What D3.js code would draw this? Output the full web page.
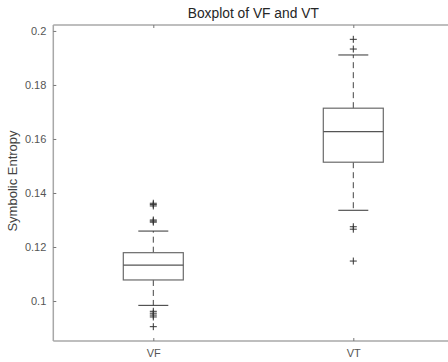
<!DOCTYPE html>
<html><head><meta charset="utf-8">
<script src="https://cdn.jsdelivr.net/npm/d3@7"></script>
<style>body{margin:0;background:#fff;} svg{display:block;font-family:"Liberation Sans",Arial,sans-serif;}</style>
</head><body><div id="chart"></div>
<script>
const categories = ["VF", "VT"];
const q1 = [0.1078, 0.1514];
const medians = [0.1133, 0.1627];
const q3 = [0.1179, 0.1714];
const whiskerLow = [0.0984, 0.1336];
const whiskerHigh = [0.1259, 0.1911];
const outliers = [
  [0.1362, 0.1357, 0.1352, 0.1300, 0.1296, 0.1292, 0.0962, 0.0955, 0.0948, 0.0941, 0.0905],
  [0.1969, 0.1933, 0.1275, 0.1266, 0.1148]
];
const yTicks = [0.1, 0.12, 0.14, 0.16, 0.18, 0.2];
const yTickLabels = ["0.1", "0.12", "0.14", "0.16", "0.18", "0.2"];

const W = 448, H = 362;
const svg = d3.select("#chart").append("svg").attr("width", W).attr("height", H);
const mLeft = 53.3, mTop = 25, mRight = 453.3, mBottom = 341;

const y = d3.scaleLinear().domain([0.0852, 0.2022]).range([mBottom, mTop]);
const x = d3.scaleLinear().domain([0.5, 2.5]).range([mLeft, mRight]);
const boxW = 0.3, capW = 0.15;

// frame
const frame = "#a8a8a8";
svg.append("line").attr("x1", mLeft).attr("x2", mRight).attr("y1", mTop).attr("y2", mTop).attr("stroke", frame).attr("stroke-width", 1.5);
svg.append("line").attr("x1", mLeft).attr("x2", mRight).attr("y1", mBottom).attr("y2", mBottom).attr("stroke", frame).attr("stroke-width", 1.5);
svg.append("line").attr("x1", mLeft).attr("x2", mLeft).attr("y1", mTop).attr("y2", mBottom).attr("stroke", frame).attr("stroke-width", 1.5);

// y axis
const yAxis = d3.axisLeft(y).tickValues(yTicks).tickFormat((d, i) => yTickLabels[i]).tickSizeInner(-3).tickSizeOuter(0).tickPadding(7);
const gy = svg.append("g").attr("transform", `translate(${mLeft},0)`).call(yAxis);
gy.select(".domain").remove();
gy.selectAll(".tick line").attr("stroke", "#777");
gy.selectAll("text").attr("fill", "#555").attr("font-size", 11);

// x axis
const xAxis = d3.axisBottom(x).tickValues([1, 2]).tickFormat((d, i) => categories[i]).tickSizeInner(-3).tickSizeOuter(0).tickPadding(8);
const gx = svg.append("g").attr("transform", `translate(0,${mBottom})`).call(xAxis);
gx.select(".domain").remove();
gx.selectAll(".tick line").attr("stroke", "#777");
gx.selectAll("text").attr("fill", "#555").attr("font-size", 11);
const gxt = svg.append("g").attr("transform", `translate(0,${mTop})`).call(d3.axisTop(x).tickValues([1, 2]).tickFormat("").tickSizeInner(-3).tickSizeOuter(0));
gxt.select(".domain").remove();
gxt.selectAll(".tick line").attr("stroke", "#777");

// title and label
svg.append("text").attr("x", (mLeft + mRight) / 2).attr("y", 18).attr("text-anchor", "middle").attr("font-size", 13.8).attr("fill", "#262626").text("Boxplot of VF and VT");
svg.append("text").attr("transform", `translate(17,${(mTop + mBottom) / 2 - 2}) rotate(-90)`).attr("text-anchor", "middle").attr("font-size", 13).attr("fill", "#444").text("Symbolic Entropy");

// boxes
categories.forEach((c, i) => {
  const p = i + 1;
  const g = svg.append("g");
  g.append("line").attr("x1", x(p)).attr("x2", x(p)).attr("y1", y(q3[i])).attr("y2", y(whiskerHigh[i])).attr("stroke", "#444").attr("stroke-dasharray", "6,4");
  g.append("line").attr("x1", x(p)).attr("x2", x(p)).attr("y1", y(q1[i])).attr("y2", y(whiskerLow[i])).attr("stroke", "#444").attr("stroke-dasharray", "6,4");
  [whiskerLow[i], whiskerHigh[i]].forEach(v => {
    g.append("line").attr("x1", x(p - capW / 2)).attr("x2", x(p + capW / 2)).attr("y1", y(v)).attr("y2", y(v)).attr("stroke", "#333");
  });
  g.append("rect").attr("x", x(p - boxW / 2)).attr("width", x(p + boxW / 2) - x(p - boxW / 2))
    .attr("y", y(q3[i])).attr("height", y(q1[i]) - y(q3[i])).attr("fill", "none").attr("stroke", "#6a6a6a").attr("stroke-width", 1.2);
  g.append("line").attr("x1", x(p - boxW / 2)).attr("x2", x(p + boxW / 2)).attr("y1", y(medians[i])).attr("y2", y(medians[i])).attr("stroke", "#555").attr("stroke-width", 1.2);
  outliers[i].forEach(v => {
    const cx = x(p), cy = y(v);
    g.append("path").attr("d", `M${cx - 3.5},${cy}H${cx + 3.5}M${cx},${cy - 3.5}V${cy + 3.5}`).attr("stroke", "#333").attr("stroke-width", 1);
  });
});
</script></body></html>
